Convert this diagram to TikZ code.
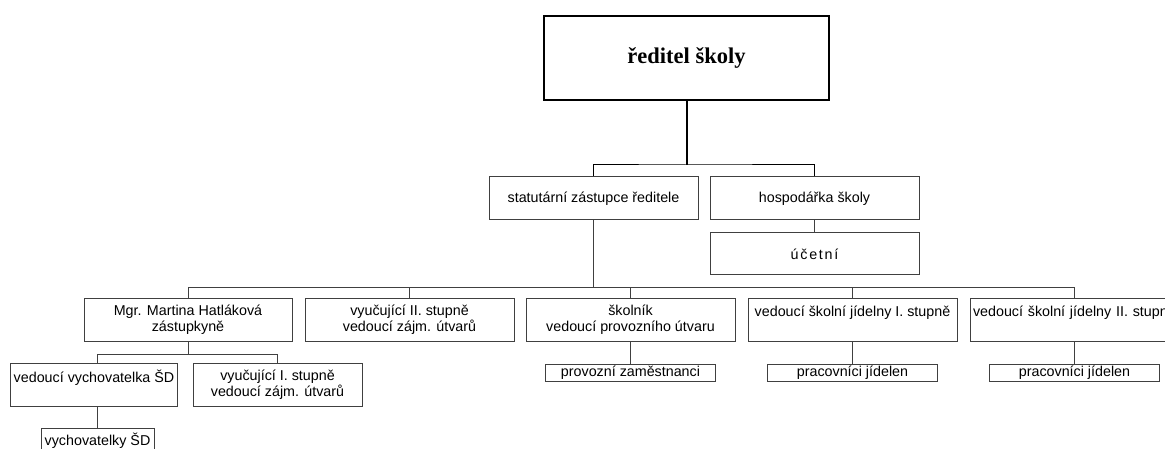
\documentclass[tikz,border=0pt]{standalone}
\usepackage{fontspec}
\setmainfont{Liberation Sans}
\newfontfamily\dirserif{Liberation Serif}
\usepackage{tikz}
\usetikzlibrary{positioning}

\newcommand\boxfont{\fontsize{14.3}{16}\selectfont}
\newcommand\headfont{\dirserif\bfseries\fontsize{22.5}{27}\selectfont}

\begin{document}
\begin{tikzpicture}[x=1pt,y=-1pt,
	unit/.style={draw=black!75,line width=1pt,minimum width=209pt,minimum height=43pt,inner sep=3pt,align=center,font=\boxfont},
	subunit/.style={draw=black!75,line width=1pt,minimum width=170pt,minimum height=17pt,inner sep=0pt,font=\boxfont},
	link/.style={draw=black!75,line width=1pt}]
		\useasboundingbox (0,0) rectangle (1165,449);
		\clip (0,0) rectangle (1165,449);
		% head
		\node(dir) [draw,line width=2pt,minimum width=285pt,minimum height=84pt,font=\headfont] at (686.5,58) {ředitel školy};
		\node(stat) [unit] at (593.5,198.5) {statutární zástupce ředitele};
		\node(hosp) [unit,right=11pt of stat] {hospodářka školy};
		\node(ucet) [unit,minimum height=42pt,below=12pt of hosp] {\addfontfeature{LetterSpace=12}účetní};
		% second row
		\node(mgr) [unit,minimum width=208pt] at (188,319.5) {Mgr. Martina Hatláková\\zástupkyně};
		\node(vyuc2) [unit,right=12pt of mgr] {vyučující II. stupně\\vedoucí zájm. útvarů};
		\node(skol) [unit,right=11pt of vyuc2] {školník\\vedoucí provozního útvaru};
		\node(sj1) [unit,right=12pt of skol,align=left] {vedoucí školní jídelny I. stupně\\\mbox{}};
		\node(sj2) [unit,right=12pt of sj1,text width=203pt,align=left] {vedoucí školní jídelny II. stupně\\\mbox{}};
		% third row
		\node(vedvych) [unit,minimum width=164pt,align=left] at (94,384.5) {vedoucí vychovatelka ŠD\\\mbox{}};
		\node(vyuc1) [unit,minimum width=169pt] at (277.5,384.5) {vyučující I. stupně\\vedoucí zájm. útvarů};
		\node(vych) [subunit,minimum width=113pt,minimum height=24pt,anchor=north] at (97.5,428) {vychovatelky ŠD};
		\node(prov) [subunit,below=22pt of skol] {provozní zaměstnanci};
		\node(prac1) [subunit,below=22pt of sj1] {pracovníci jídelen};
		\node(prac2) [subunit,below=22pt of sj2] {pracovníci jídelen};
		% connectors
		\coordinate(top) at (0,165);
		\coordinate(mid) at (0,287);
		\coordinate(low) at (0,354);
		\draw [line width=2pt] (dir) -- (dir.south |- top);
		\draw [line width=1pt] (stat.north) |- (dir.south |- top) -| (hosp.north);
		\draw [link] (hosp) -- (ucet);
		\draw [link] (stat) -- (stat.south |- mid);
		\foreach \n in {mgr,vyuc2,skol,sj1,sj2}
			\draw [link] (\n.north) |- (stat.south |- mid);
		\draw [link] (mgr) -- (mgr.south |- low);
		\draw [link] (vedvych.north -| vych.north) |- (mgr.south |- low);
		\draw [link] (vyuc1.north) |- (mgr.south |- low);
		\draw [link] (vych.north) -- (vych.north |- vedvych.south);
		\draw [link] (skol) -- (prov);
		\draw [link] (sj1) -- (prac1);
		\draw [link] (sj2) -- (prac2);
	\end{tikzpicture}
\end{document}
